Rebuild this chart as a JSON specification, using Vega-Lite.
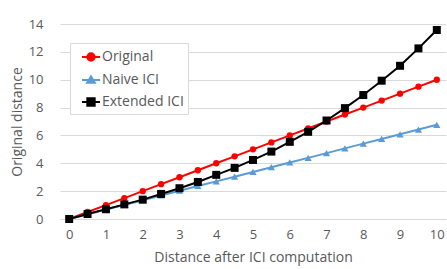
{
  "$schema": "https://vega.github.io/schema/vega-lite/v6.json",
  "width": 386,
  "height": 195,
  "autosize": "none",
  "padding": {"left": 60, "top": 24, "right": 1, "bottom": 50},
  "background": "white",
  "config": {
    "font": "Open Sans",
    "view": {"stroke": null},
    "axis": {"labelColor": "#595959", "titleColor": "#595959", "labelFont": "Open Sans", "titleFont": "Open Sans", "titleFontWeight": "normal", "ticks": false, "tickSize": 0, "gridColor": "#d9d9d9", "domain": false}
  },
  "data": {"values": [
    {"x": 0, "y": 0, "series": "Original"}, {"x": 0.5, "y": 0.5, "series": "Original"}, {"x": 1, "y": 1, "series": "Original"}, {"x": 1.5, "y": 1.5, "series": "Original"}, {"x": 2, "y": 2, "series": "Original"}, {"x": 2.5, "y": 2.5, "series": "Original"}, {"x": 3, "y": 3, "series": "Original"}, {"x": 3.5, "y": 3.5, "series": "Original"}, {"x": 4, "y": 4, "series": "Original"}, {"x": 4.5, "y": 4.5, "series": "Original"}, {"x": 5, "y": 5, "series": "Original"}, {"x": 5.5, "y": 5.5, "series": "Original"}, {"x": 6, "y": 6, "series": "Original"}, {"x": 6.5, "y": 6.5, "series": "Original"}, {"x": 7, "y": 7, "series": "Original"}, {"x": 7.5, "y": 7.5, "series": "Original"}, {"x": 8, "y": 8, "series": "Original"}, {"x": 8.5, "y": 8.5, "series": "Original"}, {"x": 9, "y": 9, "series": "Original"}, {"x": 9.5, "y": 9.5, "series": "Original"}, {"x": 10, "y": 10, "series": "Original"},
    {"x": 0, "y": 0, "series": "Naive ICI"}, {"x": 0.5, "y": 0.34, "series": "Naive ICI"}, {"x": 1, "y": 0.68, "series": "Naive ICI"}, {"x": 1.5, "y": 1.01, "series": "Naive ICI"}, {"x": 2, "y": 1.35, "series": "Naive ICI"}, {"x": 2.5, "y": 1.69, "series": "Naive ICI"}, {"x": 3, "y": 2.03, "series": "Naive ICI"}, {"x": 3.5, "y": 2.37, "series": "Naive ICI"}, {"x": 4, "y": 2.7, "series": "Naive ICI"}, {"x": 4.5, "y": 3.04, "series": "Naive ICI"}, {"x": 5, "y": 3.38, "series": "Naive ICI"}, {"x": 5.5, "y": 3.72, "series": "Naive ICI"}, {"x": 6, "y": 4.06, "series": "Naive ICI"}, {"x": 6.5, "y": 4.39, "series": "Naive ICI"}, {"x": 7, "y": 4.73, "series": "Naive ICI"}, {"x": 7.5, "y": 5.07, "series": "Naive ICI"}, {"x": 8, "y": 5.41, "series": "Naive ICI"}, {"x": 8.5, "y": 5.75, "series": "Naive ICI"}, {"x": 9, "y": 6.08, "series": "Naive ICI"}, {"x": 9.5, "y": 6.42, "series": "Naive ICI"}, {"x": 10, "y": 6.76, "series": "Naive ICI"},
    {"x": 0, "y": 0, "series": "Extended ICI"}, {"x": 0.5, "y": 0.36, "series": "Extended ICI"}, {"x": 1, "y": 0.7, "series": "Extended ICI"}, {"x": 1.5, "y": 1.05, "series": "Extended ICI"}, {"x": 2, "y": 1.39, "series": "Extended ICI"}, {"x": 2.5, "y": 1.8, "series": "Extended ICI"}, {"x": 3, "y": 2.21, "series": "Extended ICI"}, {"x": 3.5, "y": 2.66, "series": "Extended ICI"}, {"x": 4, "y": 3.17, "series": "Extended ICI"}, {"x": 4.5, "y": 3.67, "series": "Extended ICI"}, {"x": 5, "y": 4.24, "series": "Extended ICI"}, {"x": 5.5, "y": 4.84, "series": "Extended ICI"}, {"x": 6, "y": 5.54, "series": "Extended ICI"}, {"x": 6.5, "y": 6.26, "series": "Extended ICI"}, {"x": 7, "y": 7.07, "series": "Extended ICI"}, {"x": 7.5, "y": 7.96, "series": "Extended ICI"}, {"x": 8, "y": 8.9, "series": "Extended ICI"}, {"x": 8.5, "y": 9.93, "series": "Extended ICI"}, {"x": 9, "y": 11.0, "series": "Extended ICI"}, {"x": 9.5, "y": 12.25, "series": "Extended ICI"}, {"x": 10, "y": 13.57, "series": "Extended ICI"}
  ]},
  "encoding": {
    "x": {"field": "x", "type": "quantitative", "scale": {"domain": [-0.25, 10.25], "nice": false, "zero": false},
      "axis": {"values": [0,1,2,3,4,5,6,7,8,9,10], "grid": false, "title": "Distance after ICI computation", "labelFontSize": 13, "titleFontSize": 14, "labelPadding": 9, "titlePadding": 9, "domain": true, "domainColor": "#d9d9d9"}},
    "y": {"field": "y", "type": "quantitative", "scale": {"domain": [0, 14], "nice": false},
      "axis": {"values": [0,2,4,6,8,10,12,14], "title": "Original distance", "labelFontSize": 13, "titleFontSize": 14, "labelPadding": 17, "titlePadding": 4}},
    "color": {"field": "series", "type": "nominal", "sort": ["Original", "Naive ICI", "Extended ICI"],
      "scale": {"domain": ["Original", "Naive ICI", "Extended ICI"], "range": ["#ff0000", "#5b9bd5", "#000000"]},
      "legend": {"title": null, "orient": "none", "legendX": 10, "legendY": 19, "fillColor": "white", "strokeColor": "#d9d9d9", "padding": 4, "symbolOffset": 7, "symbolSize": 324, "labelFontSize": 14, "labelColor": "#595959", "labelFont": "Open Sans", "labelOffset": 1, "rowPadding": 5,
        "encode": {"symbols": {"update": {
          "shape": {"signal": "datum.value === 'Original' ? 'M-1,0H1M0.42,0A0.42,0.42,0,1,1,-0.42,0A0.42,0.42,0,1,1,0.42,0Z' : datum.value === 'Naive ICI' ? 'M-1,0H1M0,-0.42L0.45,0.32L-0.45,0.32Z' : 'M-1,0H1M-0.42,-0.42H0.42V0.42H-0.42Z'"},
          "fill": {"scale": "color", "field": "value"},
          "stroke": {"scale": "color", "field": "value"},
          "size": {"value": 324},
          "strokeWidth": {"value": 1.8},
          "opacity": {"value": 1}
        }}}}}
  },
  "layer": [
    {"mark": {"type": "line", "strokeWidth": 2}},
    {"mark": {"type": "point", "filled": true, "opacity": 1},
     "encoding": {"shape": {"field": "series", "type": "nominal", "scale": {"range": ["square", "triangle-up", "circle"]}, "legend": null},
       "size": {"field": "series", "type": "nominal", "scale": {"range": [64, 40, 50]}, "legend": null}}}
  ]
}
